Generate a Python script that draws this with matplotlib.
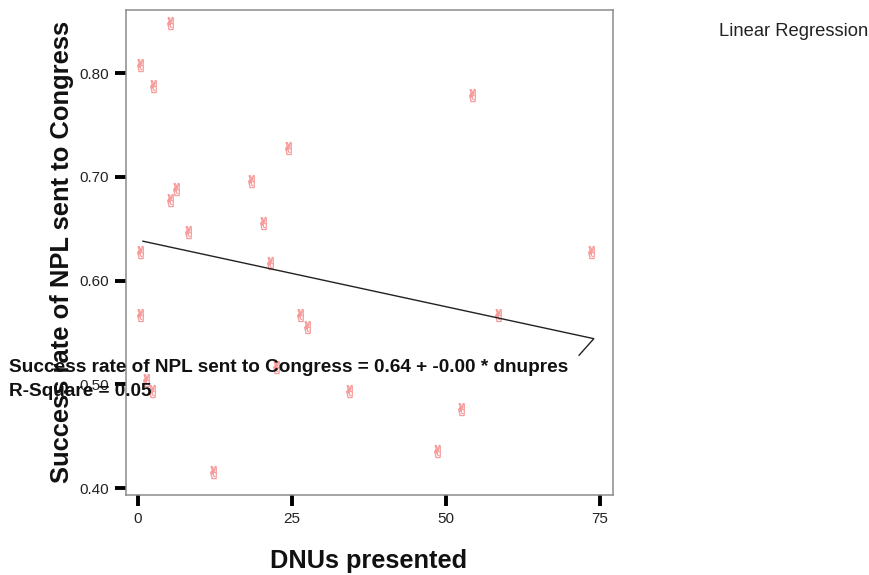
import matplotlib
matplotlib.use('Agg')
import matplotlib.pyplot as plt

plt.rcParams['font.family'] = ['Liberation Sans', 'DejaVu Sans']

# puntos
dnus = [5.2, 0.3, 2.4, 54.2, 24.4, 18.3, 6.2, 5.2, 20.3, 8.1, 0.3, 21.4,
        73.5, 0.3, 26.3, 58.4, 27.4, 22.4, 1.3, 2.3, 34.3, 52.4, 48.5, 12.2]
success = [0.848, 0.808, 0.788, 0.779, 0.728, 0.696, 0.688, 0.678, 0.656, 0.647, 0.628, 0.617,
           0.628, 0.567, 0.567, 0.567, 0.555, 0.517, 0.504, 0.494, 0.494, 0.476, 0.436, 0.415]

# linea de regresion, con el gancho final
line_x = [0.8, 74.0, 71.6]
line_y = [0.638, 0.544, 0.528]

x_ticks = [0, 25, 50, 75]
y_ticks = [0.40, 0.50, 0.60, 0.70, 0.80]
y_labels = ['0.40', '0.50', '0.60', '0.70', '0.80']

W, H = 870, 575
fig = plt.figure(figsize=(W / 100, H / 100), dpi=100)
ax = fig.add_axes([126 / W, 1 - 495 / H, (613 - 126) / W, (495 - 10) / H])

ax.set_xlim((126 - 138) / 6.16, (613 - 138) / 6.16)
ax.set_ylim(0.40 - 7 / 1037, 0.40 + 478 / 1037)

ax.scatter(dnus, success, marker='$\u270c$', s=85, color='#f79a9a', linewidths=0.4, zorder=3)
ax.plot(line_x, line_y, color='#222222', lw=1.0, zorder=4)

ax.set_xticks(x_ticks)
ax.set_yticks(y_ticks)
ax.set_yticklabels(y_labels)
ax.tick_params(axis='both', length=8, width=2.8, color='black', labelsize=11, labelcolor='#222222')
ax.tick_params(axis='x', pad=4)
ax.tick_params(axis='y', pad=4)
for s in ax.spines.values():
    s.set_color('#8c8c8c')
    s.set_linewidth(1.1)

fig.text(369 / W, 1 - 561 / H, 'DNUs presented', fontsize=18.3, fontweight='bold',
         ha='center', va='center', color='#111111')
fig.text(62 / W, 1 - 252 / H, 'Success rate of NPL sent to Congress', fontsize=18.4,
         fontweight='bold', rotation=90, ha='center', va='center', color='#111111')

fig.text(9 / W, 1 - 368 / H, 'Success rate of NPL sent to Congress = 0.64 + -0.00 * dnupres',
         fontsize=13.7, fontweight='bold', ha='left', va='center', color='#111111', zorder=10)
fig.text(9 / W, 1 - 392 / H, 'R-Square = 0.05', fontsize=13.7, fontweight='bold',
         ha='left', va='center', color='#111111', zorder=10)
fig.text(719 / W, 1 - 32 / H, 'Linear Regression', fontsize=13.2, ha='left', va='center',
         color='#222222')

fig.savefig('out.png', dpi=100)
